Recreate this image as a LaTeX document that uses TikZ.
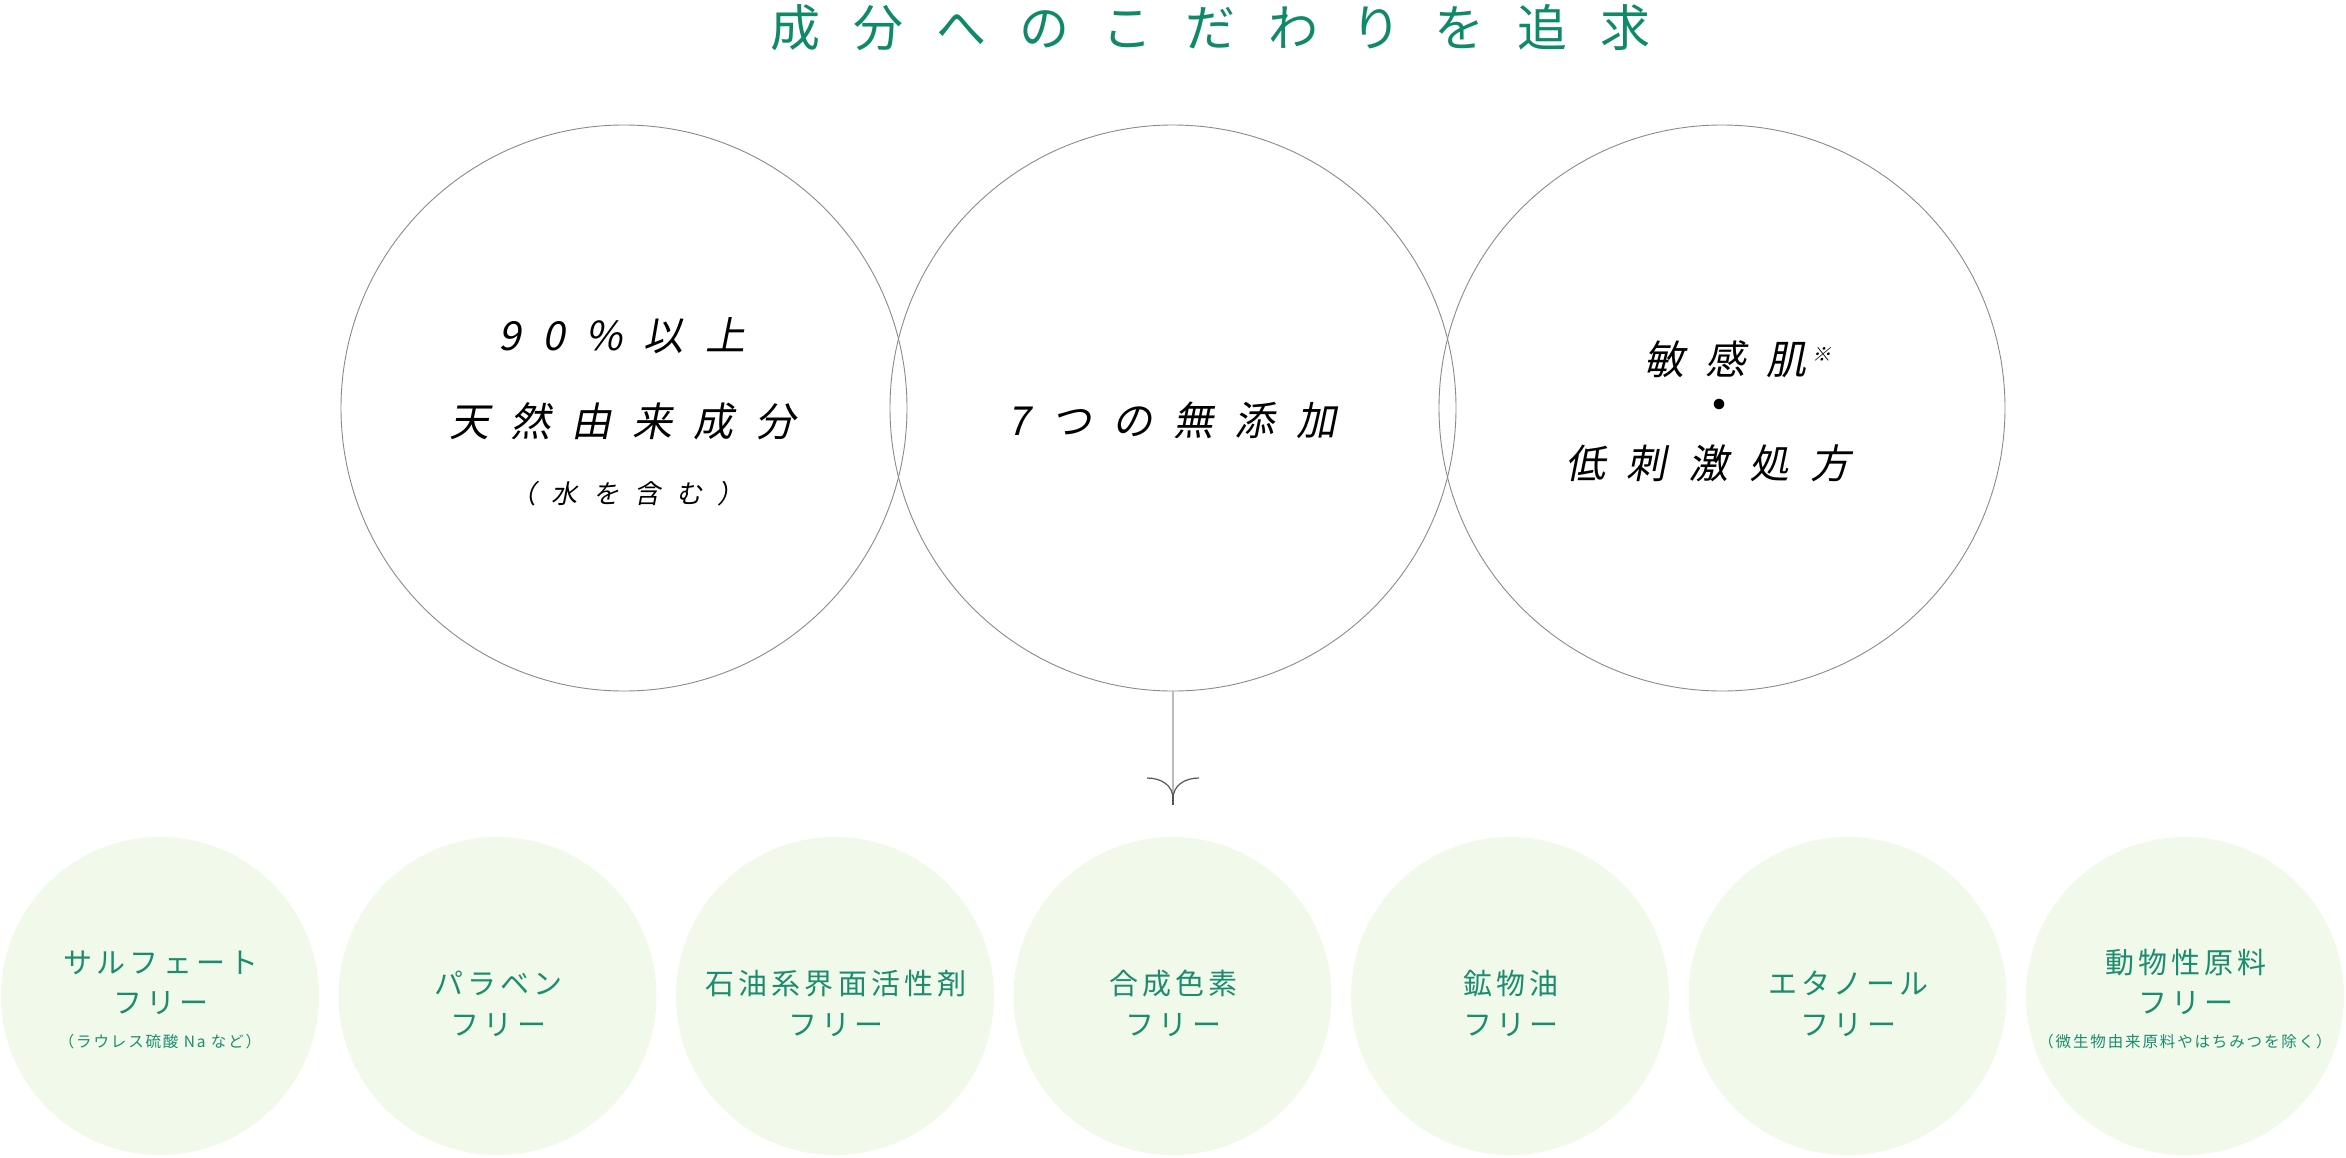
\documentclass[tikz,border=0pt]{standalone}
\usepackage{fontspec}
\newfontfamily\jpbase{Noto Sans CJK JP}
\newfontfamily\jptitle[LetterSpace=66]{Noto Sans CJK JP}
\newfontfamily\jpslant[FakeSlant=0.2,LetterSpace=53]{Noto Sans CJK JP}
\newfontfamily\jpslantb[FakeSlant=0.2,LetterSpace=60]{Noto Sans CJK JP}
\newfontfamily\jpslantc[FakeSlant=0.2]{Noto Sans CJK JP}
\newfontfamily\jpgreen[LetterSpace=14]{Noto Sans CJK JP}
\newfontfamily\jpsmall[LetterSpace=12]{Noto Sans CJK JP}
\definecolor{titlegreen}{HTML}{0E8A68}
\definecolor{textgreen}{HTML}{1B8C6E}
\definecolor{paleg}{HTML}{F1F9EB}
\definecolor{ringgrey}{HTML}{8A8A8A}
\definecolor{linegrey}{HTML}{BBBBBB}
\definecolor{headgrey}{HTML}{555555}
\begin{document}
\begin{tikzpicture}[x=1pt,y=-1pt,
  bigring/.style={circle, draw=ringgrey, line width=0.9pt, minimum size=566pt, inner sep=0pt},
  smallfill/.style={circle, fill=paleg, minimum size=318pt, inner sep=0pt},
  titletxt/.style={inner sep=0pt, anchor=west, text=titlegreen, font=\jptitle\fontsize{50}{50}\selectfont},
  bigtxt/.style={inner sep=0pt, text=black, font=\jpslant\fontsize{40}{40}\selectfont},
  subtxt/.style={inner sep=0pt, text=black, font=\jpslantb\fontsize{26}{26}\selectfont},
  dottxt/.style={inner sep=0pt, text=black, font=\jpbase\fontsize{50}{50}\selectfont},
  greentxt/.style={inner sep=0pt, text=textgreen, font=\jpgreen\fontsize{29}{29}\selectfont},
  notetxt/.style={inner sep=0pt, text=textgreen, font=\jpsmall\fontsize{15.5}{15.5}\selectfont},
  stemline/.style={draw=linegrey, line width=1.5pt},
  headline/.style={draw=headgrey, line width=1.2pt}
]
\useasboundingbox (0,0) rectangle (2346,1157);

% title
\node[titletxt] (title) at (770,28) {成分へのこだわりを追求};

% big circles
\node[bigring] (c1) at (624,408) {};
\node[bigring] (c2) at (1173,408) {};
\node[bigring] (c3) at (1722,408) {};

\node[bigtxt] (t1a) at (622,335.5) {90\%以上};
\node[bigtxt] (t1b) at (622,421) {天然由来成分};
\node[subtxt] (t1c) at (627,494) {（水を含む）};

\node[bigtxt] (t2a) at (1172,420) {7つの無添加};

\node[bigtxt, anchor=west] (t3a) at (1644,359) {敏感肌\hspace{6pt}\raisebox{13pt}{\jpslantc\fontsize{19}{19}\selectfont ※}};
\node[dottxt] (t3b) at (1719,411) {・};
\node[bigtxt] (t3c) at (1708,463) {低刺激処方};

% arrow
\coordinate (arrowend) at (1173,805);
\draw[stemline] (c2.south) -- (arrowend);
\draw[headline, shift={(arrowend)}] (-26,-27) .. controls (-12,-27) and (0,-20) .. (0,-6);
\draw[headline, shift={(arrowend)}] (26,-27) .. controls (12,-27) and (0,-20) .. (0,-6);
\draw[headline] (arrowend) -- ++(0,-8);

% small circles
\node[smallfill] (s1) at (160,996) {};
\node[smallfill] (s2) at (497.5,996) {};
\node[smallfill] (s3) at (835,996) {};
\node[smallfill] (s4) at (1172.5,996) {};
\node[smallfill] (s5) at (1510,996) {};
\node[smallfill] (s6) at (1847.5,996) {};
\node[smallfill] (s7) at (2185,996) {};

\node[greentxt] (s1a) at (161,962.5) {サルフェート};
\node[greentxt] (s1b) at (161,1003) {フリー};
\node[notetxt] (s1c) at (160,1041.5) {（ラウレス硫酸 Na など）};

\node[greentxt] (s2a) at (498.5,983.5) {パラベン};
\node[greentxt] (s2b) at (498.5,1025) {フリー};

\node[greentxt] (s3a) at (836,983.5) {石油系界面活性剤};
\node[greentxt] (s3b) at (836,1025) {フリー};

\node[greentxt] (s4a) at (1173.5,983.5) {合成色素};
\node[greentxt] (s4b) at (1173.5,1025) {フリー};

\node[greentxt] (s5a) at (1511,983.5) {鉱物油};
\node[greentxt] (s5b) at (1511,1025) {フリー};

\node[greentxt] (s6a) at (1848.5,983.5) {エタノール};
\node[greentxt] (s6b) at (1848.5,1025) {フリー};

\node[greentxt] (s7a) at (2186,962.5) {動物性原料};
\node[greentxt] (s7b) at (2186,1003) {フリー};
\node[notetxt] (s7c) at (2185,1041.5) {（微生物由来原料やはちみつを除く）};
\end{tikzpicture}
\end{document}
